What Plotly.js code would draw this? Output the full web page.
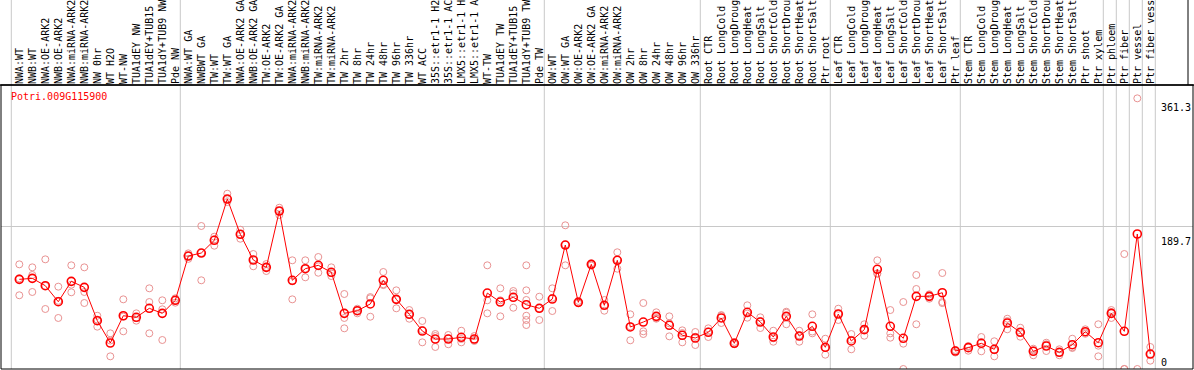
<!DOCTYPE html>
<html>
<head>
<meta charset="utf-8">
<script src="https://cdn.plot.ly/plotly-3.0.1.min.js"></script>
<style>html,body{margin:0;padding:0;background:#fff;}#chart{width:1194px;height:370px;}</style>
</head>
<body>
<div id="chart"></div>
<script>
const geneId = "Potri.009G115900";

const categories = [
  "NWA:WT","NWB:WT","NWA:OE-ARK2","NWB:OE-ARK2","NWA:miRNA-ARK2","NWB:miRNA-ARK2","NW 0hr","WT H2O","WT-NW",
  "TUA1dEY NW","TUA1dEY+TUB15 NW","TUA1dY+TUB9 NW","Pde NW",
  "NWA:WT GA","NWBWT GA","TW:WT","TW:WT GA","NWA:OE-ARK2 GA","NWB:OE-ARK2 GA","TW:OE-ARK2","TW:OE-ARK2 GA",
  "NWA:miRNA-ARK2","NWB:miRNA-ARK2","TW:miRNA-ARK2","TW:miRNA-ARK2","TW 2hr","TW 8hr","TW 24hr","TW 48hr","TW 96hr","TW 336hr",
  "WT ACC","35S::etr1-1 H2O","35S::etr1-1 ACC","LMX5::etr1-1 H2O","LMX5::etr1-1 ACC","WT-TW","TUA1dEY TW","TUA1dEY+TUB15 TW","TUA1dY+TUB9 TW","Pde TW",
  "OW:WT","OW:WT GA","OW:OE-ARK2","OW:OE-ARK2 GA","OW:miRNA-ARK2","OW:miRNA-ARK2","OW 2hr","OW 8hr","OW 24hr","OW 48hr","OW 96hr","OW 336hr",
  "Root CTR","Root LongCold","Root LongDrought","Root LongHeat","Root LongSalt","Root ShortCold","Root ShortDrought","Root ShortHeat","Root ShortSalt","Ptr root",
  "Leaf CTR","Leaf LongCold","Leaf LongDrought","Leaf LongHeat","Leaf LongSalt","Leaf ShortCold","Leaf ShortDrought","Leaf ShortHeat","Leaf ShortSalt","Ptr leaf",
  "Stem CTR","Stem LongCold","Stem LongDrought","Stem LongHeat","Stem LongSalt","Stem ShortCold","Stem ShortDrought","Stem ShortHeat","Stem ShortSalt","Ptr shoot","Ptr xylem",
  "Ptr phloem","Ptr fiber","Ptr vessel","Ptr fiber vessel"
];

const means = [
  119.7,121.0,111.2,89.8,117.0,109.0,64.5,34.7,71.1,69.0,81.0,74.3,91.7,
  150.8,154.8,171.8,226.9,179.8,145.5,135.7,210.9,118.4,133.9,138.4,129.1,74.3,77.8,86.8,118.4,93.0,73.0,50.7,40.0,40.0,42.3,40.0,101.4,89.4,95.7,85.8,81.0,
  93.4,165.5,89.0,139.7,85.0,145.1,56.1,62.7,70.3,58.3,45.0,41.4,
  49.0,68.1,34.3,75.7,62.7,42.7,70.3,44.0,57.0,29.0,
  73.4,37.4,52.5,133.1,57.0,41.0,97.0,97.0,101.8,24.0,
  28.5,34.3,26.3,61.4,49.0,23.6,30.7,22.3,32.4,49.8,35.1,
  74.3,50.3,180.2,20.0
];

const replicates = [
  [139.7,98.4,121],[135.7,125.5,102.8],[146.4,111,80.1],[109.9,68.1,91],[138.4,112.5,102.4],[135.7,102.8,88.1],
  [71.1,56.5,66],[47.6,16.9,38],[93.0,50.3,70],[74.3,64.5,68],[107.7,89.4,47.6],[91.7,79.7,38.7],[94.4,88.5,92],
  [154.4,147,151],[190.9,118.4,155],[176.6,164.6,173],[234.0,222.9,227],[185.9,173.9,180],[153.5,137.1,146],
  [140.1,130.8,136],[215.3,205.5,211],[145.1,93.0,117],[145.1,122.4,134],[149.5,128.5,137],[135.7,124.1,128],
  [100.1,68.1,54.3],[80.5,74.3,78],[94.4,69.8,96],[129.5,113.1,112],[105.0,81.0,93],[78.7,67.1,73],
  [64.1,35.6,52],[46.7,29.4,44],[45.4,33.0,41],[51.1,35.6,40],[44.0,37.4,39],[138.4,91.7,74.3],
  [107.7,91.7,70.3],[104.1,101.0,81.8],[138.4,105.0,92.1,71.1,65.4,58.7],[96.5,65.4,81],
  [107.7,77.4,95],[191.8,138.4,166],[90.8,88,88],[139.7,141,138],[92.1,77.8,85],[155.8,133.9,146],
  [73.0,38.3,57],[88.1,50.3,46.7],[75.7,67.1,68],[70.3,43.6,61],[51.6,35.6,48],[49.4,32.0,43],
  [54.3,42.7,50],[71.1,61.4,72],[36.0,34,33],[85.0,68.5,74],[69.0,54.7,64],[51.1,36.4,41],
  [76.5,59.7,75],[51.1,36.4,45],[73.0,47.6,50],[40.4,19.1,28],
  [80.5,65.4,74],[46.7,26.3,39],[59.7,44.4,53],[145.1,127.7,127],[78.7,47.6,41.8],[89.4,33.8,0],
  [125.5,106.8,59.7],[99.7,93.8,97],[128.1,89.4,88],[25.4,22,24],
  [30.7,24.4,30],[42.7,23.6,36],[37.0,16.9,25],[67.1,53.0,64],[55.1,43.1,49],[27.1,18.3,25],
  [35.1,24.0,33],[26.3,18.3,22],[40.4,28.0,29],[53.0,47,49],[59.7,31.1,16.9],
  [78.7,68.1,76],[153.5,0,0],[361.3,0],[29.4,11.1,20]
];

// group boundaries: separator drawn after these category indices
const groupEnds = [-1, 12, 40, 52, 62, 72, 83, 84, 85, 86, 87];
const yTickLabels = ["361.3", "189.7", "0"];
const yTickValues = [361.3, 189.7, 0];

const idx = categories.map((_, i) => i);
const repX = [], repY = [];
replicates.forEach((r, i) => r.forEach(v => { repX.push(i); repY.push(v); }));

const traces = [
  {
    x: repX, y: repY, type: "scatter", mode: "markers", hoverinfo: "skip",
    marker: {symbol: "circle-open", size: 7, color: "#e99292", line: {width: 1, color: "#e99292"}}
  },
  {
    x: idx, y: means, type: "scatter", mode: "lines+markers",
    line: {color: "#ff0000", width: 1},
    marker: {symbol: "circle-open", size: 8, color: "#ff0000", line: {width: 1.6, color: "#ff0000"}}
  }
];

const W = 1194, H = 370, mL = 1, mR = 1, mT = 85, mB = 1;
const plotW = W - mL - mR, plotH = H - mT - mB;
const x0 = -18.3 / 13;
const x1 = x0 + plotW / 13;
const topPaper = 1 + mT / plotH + 0.01;

const shapes = groupEnds.map(g => ({
  type: "line", xref: "x", yref: "paper", x0: g + 0.385, x1: g + 0.385, y0: 0, y1: topPaper,
  line: {color: "#c8c8c8", width: 1}, layer: "below"
}));
shapes.push({type: "rect", xref: "paper", yref: "paper", x0: 0, x1: 1, y0: 0, y1: 1, line: {color: "#000", width: 1}});
shapes.push({type: "line", xref: "paper", yref: "paper", x0: -1 / plotW, x1: 1 + 1 / plotW, y0: 1, y1: 1, line: {color: "#000", width: 1.5}});
shapes.push({type: "line", xref: "paper", yref: "paper", x0: (1188 - mL) / plotW, x1: (1188 - mL) / plotW, y0: 1, y1: topPaper, line: {color: "#000", width: 1}});

const annFont = {family: "DejaVu Sans Mono, monospace", size: 10, color: "#000"};
const yShifts = [-9, -15, 7];
const annotations = yTickLabels.map((t, k) => ({
  text: t, xref: "paper", x: (1159 - mL) / plotW, xanchor: "left", yref: "y", y: yTickValues[k],
  yanchor: "middle", yshift: yShifts[k], showarrow: false, font: annFont
}));
annotations.push({
  text: geneId, xref: "paper", x: (9 - mL) / plotW, xanchor: "left", yref: "paper", y: 1 - 12 / plotH,
  yanchor: "middle", showarrow: false, font: {family: "DejaVu Sans Mono, monospace", size: 10, color: "#ff0000"}
});

const layout = {
  width: W, height: H,
  margin: {l: mL, r: mR, t: mT, b: mB, pad: 0},
  paper_bgcolor: "#fff", plot_bgcolor: "#fff",
  showlegend: false,
  xaxis: {
    range: [x0, x1], side: "top", tickmode: "array", tickvals: idx, ticktext: categories,
    tickangle: -90, tickfont: {family: "DejaVu Sans Mono, monospace", size: 10, color: "#000"},
    showgrid: false, zeroline: false, ticks: "", showline: false, automargin: false, fixedrange: true
  },
  yaxis: {
    range: [0, 379.1], tickmode: "array", tickvals: [189.7], showticklabels: false,
    showgrid: true, gridcolor: "#c8c8c8", gridwidth: 1, zeroline: false, showline: false,
    automargin: false, fixedrange: true
  },
  shapes: shapes,
  annotations: annotations
};

Plotly.newPlot("chart", traces, layout, {displayModeBar: false, staticPlot: true});
</script>
</body>
</html>
